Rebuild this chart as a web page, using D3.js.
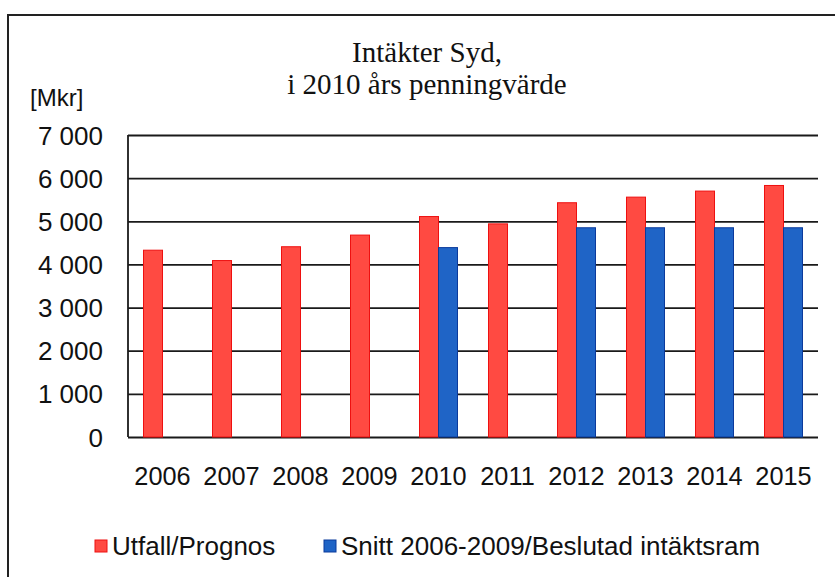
<!DOCTYPE html>
<html>
<head>
<meta charset="utf-8">
<script src="https://cdn.jsdelivr.net/npm/d3@7"></script>
<style>
  html, body { margin: 0; padding: 0; background: #fff; }
  svg { display: block; }
</style>
</head>
<body>
<svg id="chart" width="835" height="577"></svg>
<script>
const years = ["2006","2007","2008","2009","2010","2011","2012","2013","2014","2015"];
const seriesNames = ["Utfall/Prognos", "Snitt 2006-2009/Beslutad intäktsram"];
const utfall = [4330, 4090, 4410, 4680, 5110, 4940, 5430, 5560, 5700, 5830];
const snitt  = [null, null, null, null, 4390, null, 4850, 4850, 4850, 4850];
const yTicks = [0, 1000, 2000, 3000, 4000, 5000, 6000, 7000];
const titleLines = ["Intäkter Syd,", "i 2010 års penningvärde"];
const unitLabel = "[Mkr]";

const fills = ["#ff4a42", "#1f64c6"];
const strokes = ["#ee1010", "#0b3a9c"];

const svg = d3.select("#chart");
const W = 835, H = 577;
const m = { left: 128, right: 17, top: 135, bottom: 140 };

svg.append("rect").attr("width", W).attr("height", H).attr("fill", "#fff");
// outer frame (top and left edges visible)
svg.append("path")
  .attr("d", `M8,${H+2} L8,15 L${W+2},15`)
  .attr("fill", "none").attr("stroke", "#222").attr("stroke-width", 2);

const x0 = d3.scaleBand().domain(years).range([m.left, W - m.right]).paddingInner(0).paddingOuter(0);
const x1 = d3.scaleBand().domain(seriesNames).range([0, x0.bandwidth()]).paddingInner(0).paddingOuter(0.816);
const y = d3.scaleLinear().domain([0, 7000]).range([H - m.bottom, m.top]);

const locale = d3.formatLocale({ decimal: ",", thousands: " ", grouping: [3], currency: ["", " kr"] });
const fmt = locale.format(",d");

// gridlines
const grid = svg.append("g")
  .attr("transform", `translate(${m.left},0)`)
  .call(d3.axisLeft(y).tickValues(yTicks).tickSize(-(W - m.right - m.left)).tickFormat(""));
grid.select(".domain").remove();
grid.selectAll(".tick line").attr("stroke", "#1a1a1a").attr("stroke-width", 1.8);

// bars
const data = years.map((yr, i) => ({ year: yr, values: [utfall[i], snitt[i]] }));
const groups = svg.append("g").selectAll("g").data(data).join("g")
  .attr("transform", d => `translate(${x0(d.year)},0)`);
groups.selectAll("rect")
  .data(d => d.values.map((v, k) => ({ v, k })).filter(e => e.v != null))
  .join("rect")
  .attr("x", e => x1(seriesNames[e.k]))
  .attr("width", x1.bandwidth())
  .attr("y", e => y(e.v))
  .attr("height", e => y(0) - y(e.v))
  .attr("fill", e => fills[e.k])
  .attr("stroke", e => strokes[e.k])
  .attr("stroke-width", 1);

// y axis line
svg.append("line")
  .attr("x1", m.left).attr("x2", m.left)
  .attr("y1", y(7000)).attr("y2", y(0))
  .attr("stroke", "#1a1a1a").attr("stroke-width", 1.8);

// y tick labels
const yAxis = svg.append("g")
  .attr("transform", `translate(${m.left},0)`)
  .call(d3.axisLeft(y).tickValues(yTicks).tickSize(0).tickPadding(25).tickFormat(fmt));
yAxis.select(".domain").remove();
yAxis.selectAll("text")
  .attr("font-family", "Liberation Sans, Arial, sans-serif")
  .attr("font-size", 26).attr("fill", "#111").attr("dy", "0.35em");

// x labels
const xAxis = svg.append("g")
  .attr("transform", `translate(0,${y(0)})`)
  .call(d3.axisBottom(x0).tickSize(0).tickPadding(30));
xAxis.select(".domain").remove();
xAxis.selectAll("text")
  .attr("font-family", "Liberation Sans, Arial, sans-serif")
  .attr("font-size", 25.3).attr("fill", "#111");

// title
svg.append("text")
  .attr("x", 427).attr("y", 62)
  .attr("text-anchor", "middle")
  .attr("font-family", "Liberation Serif, Times New Roman, serif")
  .attr("font-size", 29).attr("fill", "#111")
  .selectAll("tspan").data(titleLines).join("tspan")
  .attr("x", 427).attr("dy", (d, i) => i === 0 ? 0 : 32)
  .text(d => d);

// unit
svg.append("text")
  .attr("x", 30).attr("y", 106)
  .attr("font-family", "Liberation Sans, Arial, sans-serif")
  .attr("font-size", 24).attr("fill", "#111")
  .text(unitLabel);

// legend
const legendItems = [
  { name: seriesNames[0], sx: 95, k: 0 },
  { name: seriesNames[1], sx: 324, k: 1 }
];
const lg = svg.append("g").selectAll("g").data(legendItems).join("g");
lg.append("rect")
  .attr("x", d => d.sx).attr("y", 540).attr("width", 12).attr("height", 12)
  .attr("fill", d => fills[d.k]).attr("stroke", d => strokes[d.k]).attr("stroke-width", 1);
lg.append("text")
  .attr("x", d => d.sx + 17).attr("y", 555)
  .attr("font-family", "Liberation Sans, Arial, sans-serif")
  .attr("font-size", 26).attr("fill", "#111")
  .text(d => d.name);
</script>
</body>
</html>
